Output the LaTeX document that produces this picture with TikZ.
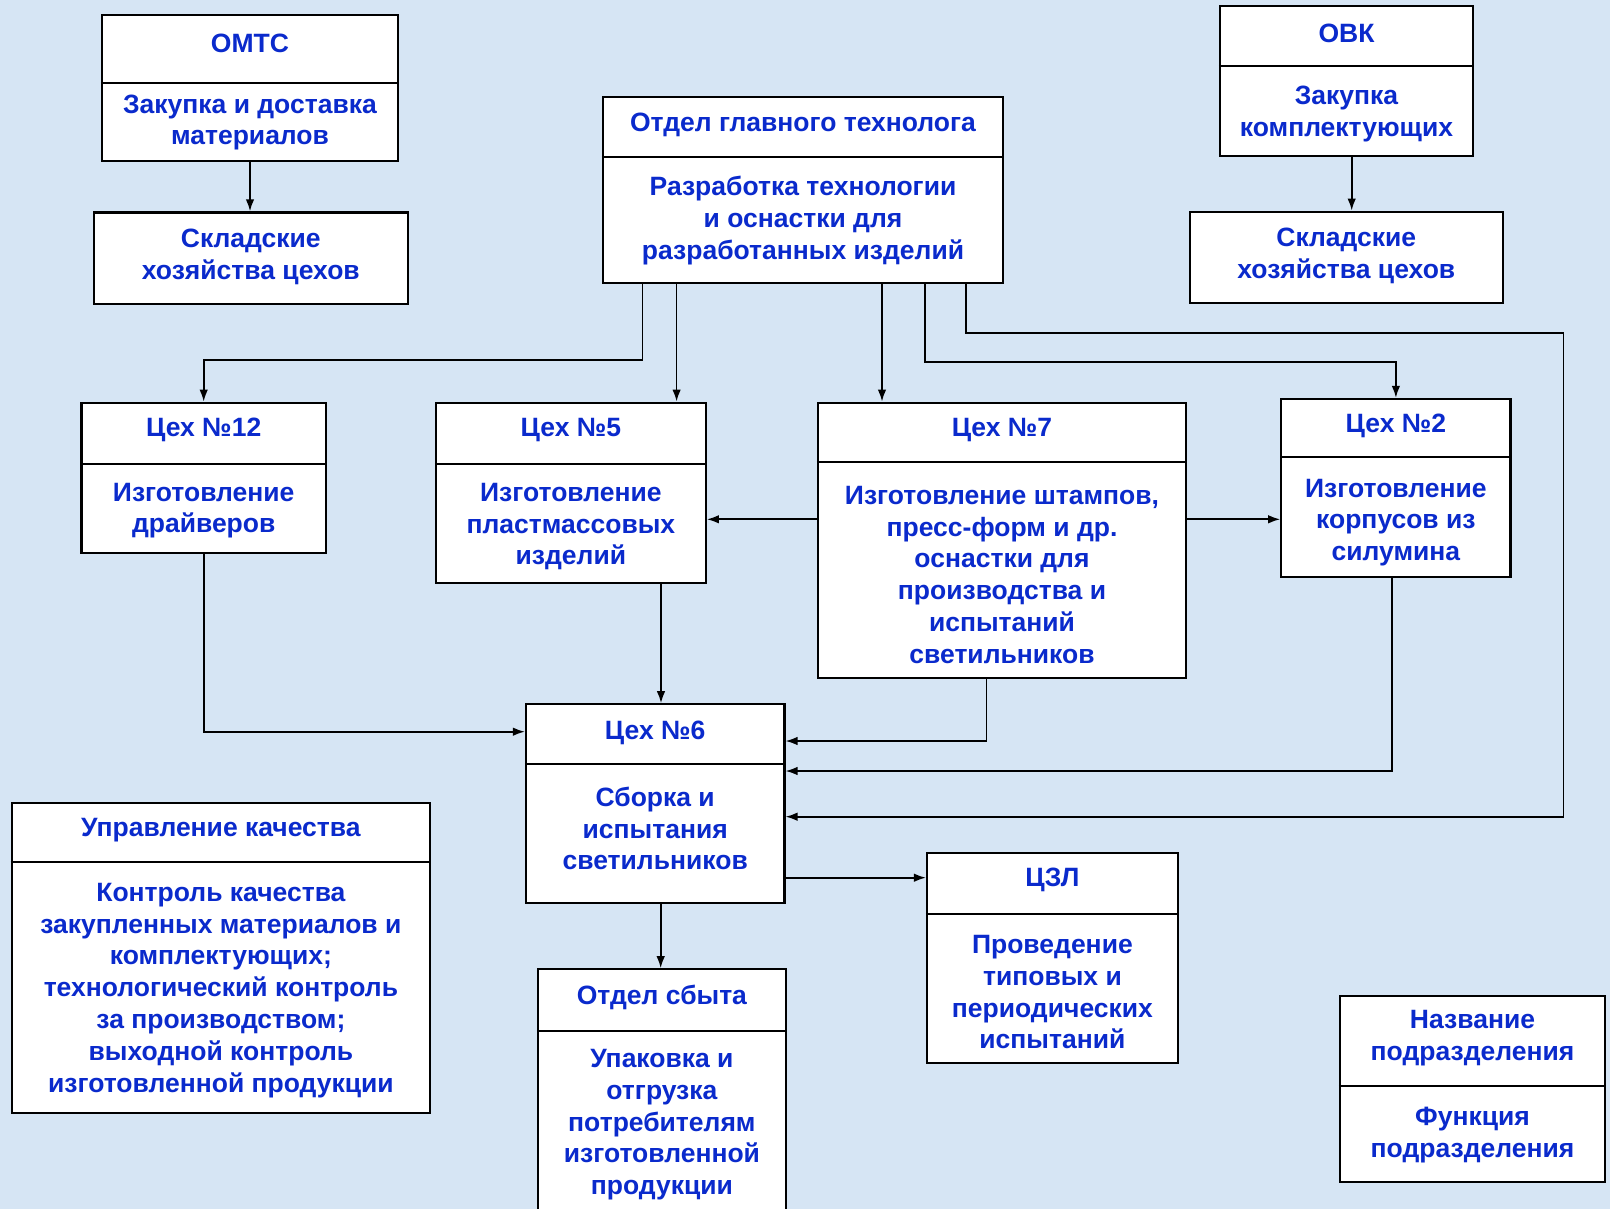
\documentclass[tikz,border=0pt]{standalone}
\usepackage{fontspec}
\setmainfont{Liberation Sans}
\usetikzlibrary{arrows.meta,positioning}
\definecolor{bgblue}{RGB}{214,229,244}
\definecolor{tblue}{RGB}{10,42,204}
\tikzset{
  box/.style={draw=black, fill=white, line width=2.2pt, inner sep=0pt},
  txt/.style={text=tblue, font=\fontsize{26.5}{31.8}\selectfont\bfseries, align=center, inner sep=0pt, yshift=-3pt},
  divline/.style={line width=1.8pt},
  conn/.style={->, line width=1.7pt}
}
\begin{document}
\begin{tikzpicture}[x=1pt, y=-1pt, >={Latex[length=12pt,width=8.5pt]}]
  \useasboundingbox (0,0) rectangle (1610,1209);
  \clip (0,0) rectangle (1610,1209);
  \fill[bgblue] (0,0) rectangle (1610,1209);

  % boxes
  \node[box, minimum width=296pt, minimum height=146pt] (omtc) at (250,88) {};
  \node[box, minimum width=314pt, minimum height=91.5pt] (sklA) at (250.8,258.2) {};
  \node[box, minimum width=400pt, minimum height=186pt] (ogt) at (803,190) {};
  \node[box, minimum width=253pt, minimum height=150pt] (ovk) at (1346.5,81) {};
  \node[box, minimum width=313pt, minimum height=91.3pt] (sklB) at (1346.3,257.3) {};
  \node[box, minimum width=244.6pt, minimum height=150pt] (c12) at (203.7,477.7) {};
  \node[box, minimum width=269.8pt, minimum height=180pt] (c5) at (570.9,492.7) {};
  \node[box, minimum width=368pt, minimum height=275.6pt] (c7) at (1002,540.5) {};
  \node[box, minimum width=229.2pt, minimum height=177.7pt] (c2) at (1395.9,487.8) {};
  \node[box, minimum width=258.4pt, minimum height=198.4pt] (c6) at (655.2,803.5) {};
  \node[box, minimum width=418.3pt, minimum height=310pt] (ukach) at (220.9,958.3) {};
  \node[box, minimum width=250.7pt, minimum height=210pt] (czl) at (1052.4,958.3) {};
  \node[box, minimum width=247.7pt, minimum height=300pt] (sbyt) at (661.9,1119.3) {};
  \node[box, minimum width=265pt, minimum height=186pt] (leg) at (1472.5,1089) {};

  % dividers
  \draw[divline] (omtc.west |- 0,83) -- (omtc.east |- 0,83);
  \draw[divline] (ogt.west |- 0,157) -- (ogt.east |- 0,157);
  \draw[divline] (ovk.west |- 0,66) -- (ovk.east |- 0,66);
  \draw[divline] (c12.west |- 0,464) -- (c12.east |- 0,464);
  \draw[divline] (c5.west |- 0,464) -- (c5.east |- 0,464);
  \draw[divline] (c7.west |- 0,462) -- (c7.east |- 0,462);
  \draw[divline] (c2.west |- 0,457.3) -- (c2.east |- 0,457.3);
  \draw[divline] (c6.west |- 0,764) -- (c6.east |- 0,764);
  \draw[divline] (ukach.west |- 0,861.7) -- (ukach.east |- 0,861.7);
  \draw[divline] (czl.west |- 0,914) -- (czl.east |- 0,914);
  \draw[divline] (sbyt.west |- 0,1030.7) -- (sbyt.east |- 0,1030.7);
  \draw[divline] (leg.west |- 0,1086) -- (leg.east |- 0,1086);

  % texts
  \node[txt] (omtc-t) at (250,40) {ОМТС};
  \node[txt] (omtc-f) at (250,119.6) {Закупка и доставка\\материалов};
  \node[txt] (sklA-f) at (250.8,254.1) {Складские\\хозяйства цехов};
  \node[txt] (ogt-t) at (803,122.2) {Отдел главного технолога};
  \node[txt] (ogt-f) at (803,217.7) {Разработка технологии\\и оснастки для\\разработанных изделий};
  \node[txt] (ovk-t) at (1346.5,30.8) {ОВК};
  \node[txt] (ovk-f) at (1346.5,110.9) {Закупка\\комплектующих};
  \node[txt] (sklB-f) at (1346.3,253) {Складские\\хозяйства цехов};
  \node[txt] (c12-t) at (203.7,427.1) {Цех №12};
  \node[txt] (c12-f) at (203.7,507.7) {Изготовление\\драйверов};
  \node[txt] (c5-t) at (570.9,427.1) {Цех №5};
  \node[txt] (c5-f) at (570.9,523.7) {Изготовление\\пластмассовых\\изделий};
  \node[txt] (c7-t) at (1002,427.1) {Цех №7};
  \node[txt] (c7-f) at (1002,571.9) {Изготовление штампов,\\пресс-форм и др.\\оснастки для\\производства и\\испытаний\\светильников};
  \node[txt] (c2-t) at (1395.9,423) {Цех №2};
  \node[txt] (c2-f) at (1395.9,519.6) {Изготовление\\корпусов из\\силумина};
  \node[txt] (c6-t) at (655.2,730) {Цех №6};
  \node[txt] (c6-f) at (655.2,825.5) {Сборка и\\испытания\\светильников};
  \node[txt] (ukach-t) at (220.9,827.6) {Управление качества};
  \node[txt] (ukach-f) at (220.9,987.3) {Контроль качества\\закупленных материалов и\\комплектующих;\\технологический контроль\\за производством;\\выходной контроль\\изготовленной продукции};
  \node[txt] (czl-t) at (1052.4,876.9) {ЦЗЛ};
  \node[txt] (czl-f) at (1052.4,989.3) {Проведение\\типовых и\\периодических\\испытаний};
  \node[txt] (sbyt-t) at (661.9,994) {Отдел сбыта};
  \node[txt] (sbyt-f) at (661.9,1121.8) {Упаковка и\\отгрузка\\потребителям\\изготовленной\\продукции};
  \node[txt] (leg-t) at (1472.5,1035.5) {Название\\подразделения};
  \node[txt] (leg-f) at (1472.5,1132) {Функция\\подразделения};

  % bend points
  \coordinate (b12) at (642.4,360);
  \coordinate (b5) at (676.6,340);
  \coordinate (b7) at (882,340);
  \coordinate (b2) at (925,361.7);
  \coordinate (b6a) at (965.7,332.7);
  \coordinate (b6b) at (1563.5,816.7);
  \coordinate (m7) at (1000,519.3);
  \coordinate (j12) at (0,731.7);
  \coordinate (j56) at (661,0);
  \coordinate (j7) at (986.5,741);
  \coordinate (j2) at (1392,771);
  \coordinate (j6) at (0,877.7);
  \coordinate (j6s) at (660.7,0);
  \coordinate (jov) at (1351.7,0);

  % connectors
  \draw[conn] (omtc.south) -- (sklA.north -| omtc.south);
  \draw[conn] (ovk.south -| jov) -- (sklB.north -| jov);
  \draw[conn] (ogt.south -| b12) -- (b12) -| (c12.north);
  \draw[conn] (ogt.south -| b5) -- (c5.north -| b5);
  \draw[conn] (ogt.south -| b7) -- (c7.north -| b7);
  \draw[conn] (ogt.south -| b2) -- (b2) -| (c2.north);
  \draw[conn] (ogt.south -| b6a) -- (b6a) -- (b6a -| b6b) -- (b6b) -- (c6.east |- b6b);
  \draw[conn] (c7.west |- m7) -- (c5.east |- m7);
  \draw[conn] (c7.east |- m7) -- (c2.west |- m7);
  \draw[conn] (c12.south) |- (c6.west |- j12);
  \draw[conn] (c5.south -| j56) -- (c6.north -| j56);
  \draw[conn] (c7.south -| j7) |- (c6.east |- j7);
  \draw[conn] (c2.south -| j2) |- (c6.east |- j2);
  \draw[conn] (c6.east |- j6) -- (czl.west |- j6);
  \draw[conn] (c6.south -| j6s) -- (sbyt.north -| j6s);
\end{tikzpicture}
\end{document}
